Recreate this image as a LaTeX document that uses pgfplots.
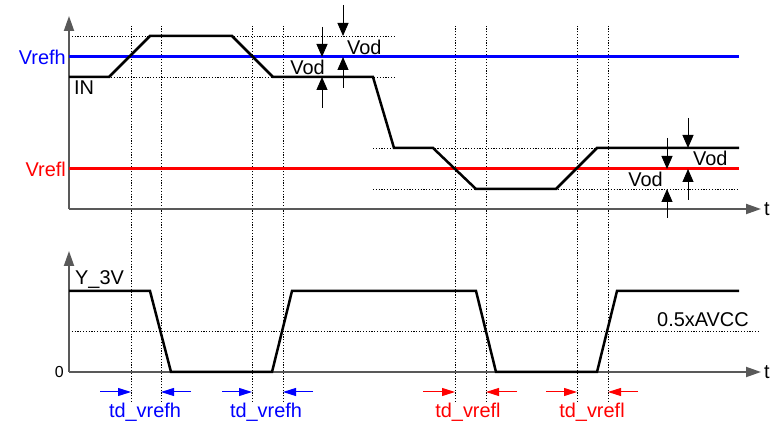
\documentclass[border=0pt]{standalone}
\usepackage{pgfplots}
\pgfplotsset{compat=1.18}
\usepackage{fontspec}
\setmainfont{Liberation Sans}
\usetikzlibrary{arrows.meta}
\newcommand{\bigf}{\fontsize{20}{23}\selectfont}
\tikzset{
  dots/.style={black, line width=0.8bp, dash pattern=on 1.2bp off 1.6bp},
  ax/.style={draw=black!65, line width=1.9bp, -{Triangle[length=15bp,width=10bp]}, shorten >=-1bp},
  vod/.style={black, line width=1bp, -{Triangle[length=13bp,width=11bp]}},
  td/.style={line width=1bp, -{Triangle[length=13bp,width=8bp]}},
  sig/.style={black, line width=2.5bp},
  lbl/.style={font=\bigf, inner sep=0pt},
}
\begin{document}
\begin{tikzpicture}
\begin{axis}[width=779bp, height=423bp, scale only axis,
  xmin=0, xmax=779, ymin=0, ymax=423, hide axis, clip=false]
% bounding
\addplot[draw=none] coordinates {(0,0) (779,423)};
% vertical dotted
\foreach \xx in {131,161,252,283,455,486,577,608}{
  \edef\temp{\noexpand\addplot[dots] coordinates {(\xx,21) (\xx,397)};}\temp
}
% horizontal dotted
\addplot[dots] coordinates {(69,387) (395,387)};
\addplot[dots] coordinates {(69,346) (395,346)};
\addplot[dots] coordinates {(373,275) (739,275)};
\addplot[dots] coordinates {(373,234) (739,234)};
\addplot[dots] coordinates {(69,92) (760,92)};
% axes
\addplot[ax] coordinates {(69,214) (69,406)};
\addplot[ax] coordinates {(69,214) (760,214)};
\addplot[ax] coordinates {(69,51) (69,171)};
\addplot[ax] coordinates {(69,51) (760,51)};
% reference lines
\addplot[blue, line width=3bp] coordinates {(69,366) (739,366)};
\addplot[red, line width=3bp] coordinates {(69,254) (739,254)};
% IN signal
\addplot[sig] coordinates {(69,346) (109,346) (150,387) (232,387) (273,346) (373,346) (394,275) (433,275) (476,234) (556,234) (597,275) (739,275)};
% Output
\addplot[sig] coordinates {(69,132) (150,132) (171,51) (272,51) (292,132) (476,132) (496,51) (597,51) (617,132) (739,132)};
% Vod arrows
\addplot[vod] coordinates {(322,396) (322,366)};
\addplot[vod] coordinates {(322,315) (322,346)};
\addplot[vod] coordinates {(343,418) (343,387)};
\addplot[vod] coordinates {(343,335) (343,366)};
\addplot[vod] coordinates {(667,285) (667,254)};
\addplot[vod] coordinates {(667,205) (667,234)};
\addplot[vod] coordinates {(688,305) (688,275)};
\addplot[vod] coordinates {(688,223) (688,254)};
% td arrows
\addplot[td, blue] coordinates {(100,31) (131,31)};
\addplot[td, blue] coordinates {(191,31) (161,31)};
\addplot[td, blue] coordinates {(222,31) (252,31)};
\addplot[td, blue] coordinates {(313,31) (283,31)};
\addplot[td, red] coordinates {(423,31) (455,31)};
\addplot[td, red] coordinates {(517,31) (486,31)};
\addplot[td, red] coordinates {(546,31) (577,31)};
\addplot[td, red] coordinates {(638,31) (608,31)};
% labels
\node[lbl, anchor=east, text=blue] at (axis cs:66,366) {Vrefh};
\node[lbl, anchor=east, text=red] at (axis cs:66,254) {Vrefl};
\node[lbl, anchor=west] at (axis cs:74,335) {IN};
\node[lbl, anchor=east] at (axis cs:325,356) {Vod};
\node[lbl, anchor=west] at (axis cs:347,376) {Vod};
\node[lbl, anchor=east] at (axis cs:663,244) {Vod};
\node[lbl, anchor=west] at (axis cs:693,265) {Vod};
\node[lbl, anchor=west] at (axis cs:764,214) {t};
\node[lbl, anchor=west] at (axis cs:764,51) {t};
\node[lbl, anchor=west] at (axis cs:75,143) {Y\_3V};
\node[inner sep=0pt, anchor=east, font=\fontsize{16}{18}\selectfont] at (axis cs:64,51) {0};
\node[lbl, anchor=west] at (axis cs:657,103) {0.5xAVCC};
\node[lbl, text=blue] at (axis cs:145,11) {td\_vrefh};
\node[lbl, text=blue] at (axis cs:266,11) {td\_vrefh};
\node[lbl, text=red] at (axis cs:468,11) {td\_vrefl};
\node[lbl, text=red] at (axis cs:592,11) {td\_vrefl};
\end{axis}
\end{tikzpicture}
\end{document}
